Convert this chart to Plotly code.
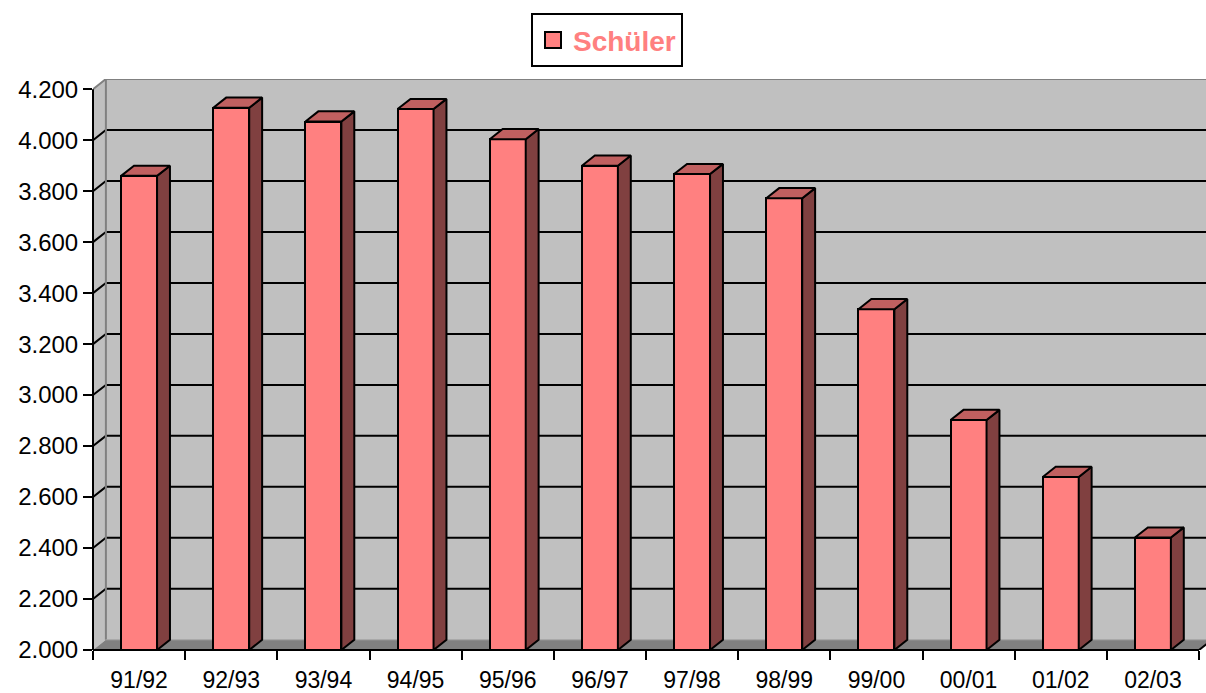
import plotly.graph_objects as go

# ---- data ----
categories = ['91/92', '92/93', '93/94', '94/95', '95/96', '96/97',
              '97/98', '98/99', '99/00', '00/01', '01/02', '02/03']
schueler = [3860, 4127, 4073, 4122, 4004, 3900, 3867, 3772, 3337, 2902, 2679, 2441]
y_ticks = [2000, 2200, 2400, 2600, 2800, 3000, 3200, 3400, 3600, 3800, 4000, 4200]
y_ticktext = [f"{v:,}".replace(',', '.') for v in y_ticks]

# ---- styling / geometry constants ----
YMIN, YMAX = 2000, 4200
DX, DY = 0.14, 40          # 3D depth offset in axis units
XR = 12.076                # right end of x range (plot area runs to the page edge)
BW = 0.39                  # bar width in category units
FRONT = '#FF8080'
SIDE = '#804040'
TOP = '#C06060'
WALL = '#C0C0C0'
FLOOR = '#808080'
EDGE = '#808080'
FONT = 'Liberation Sans, Arial, sans-serif'

n = len(categories)
centers = [i + 0.5 for i in range(n)]

fig = go.Figure()

# front faces
fig.add_trace(go.Bar(
    x=centers, y=[v - YMIN for v in schueler], base=YMIN, width=BW,
    name='Schüler', legendgroup='s',
    marker=dict(color=FRONT, line=dict(color='black', width=2)),
    hoverinfo='skip', showlegend=False))

# side faces and top faces
sx, sy, tx, ty = [], [], [], []
for c, v in zip(centers, schueler):
    xl, xr = c - BW / 2, c + BW / 2
    sx += [xr, xr + DX, xr + DX, xr, xr, None]
    sy += [YMIN, YMIN + DY, v + DY, v, YMIN, None]
    tx += [xl, xr, xr + DX, xl + DX, xl, None]
    ty += [v, v, v + DY, v + DY, v, None]
fig.add_trace(go.Scatter(x=sx, y=sy, mode='lines', fill='toself', fillcolor=SIDE, legendgroup='s',
                         line=dict(color='black', width=2), hoverinfo='skip', showlegend=False))
fig.add_trace(go.Scatter(x=tx, y=ty, mode='lines', fill='toself', fillcolor=TOP, legendgroup='s',
                         line=dict(color='black', width=2), hoverinfo='skip', showlegend=False))

# legend entry for the series (square marker like the reference legend key)
fig.add_trace(go.Scatter(x=[None], y=[None], mode='markers', name='Schüler', legendgroup='s',
                         marker=dict(symbol='square', size=19, color=FRONT,
                                     line=dict(color='black', width=2)),
                         hoverinfo='skip', showlegend=True))

# ---- walls, floor, gridlines (decoration shapes behind the traces) ----
shapes = []
shapes.append(dict(type='rect', xref='x', yref='y', x0=DX, x1=XR + 1, y0=YMIN + DY, y1=YMAX + DY,
                   fillcolor=WALL, line=dict(width=0), layer='below'))
shapes.append(dict(type='path', xref='x', yref='y',
                   path=f"M0,{YMIN} L{DX},{YMIN + DY} L{DX},{YMAX + DY} L0,{YMAX} Z",
                   fillcolor=WALL, line=dict(width=0), layer='below'))
shapes.append(dict(type='path', xref='x', yref='y',
                   path=f"M0,{YMIN} L{n},{YMIN} L{n + DX},{YMIN + DY} L{DX},{YMIN + DY} Z",
                   fillcolor=FLOOR, line=dict(width=0), layer='below'))
for v in y_ticks[1:-1]:
    shapes.append(dict(type='path', xref='x', yref='y',
                       path=f"M0,{v} L{DX},{v + DY} L{XR + 1},{v + DY}",
                       line=dict(color='black', width=2), layer='below'))
shapes.append(dict(type='path', xref='x', yref='y',
                   path=f"M0,{YMAX} L{DX},{YMAX + DY} L{XR + 1},{YMAX + DY}",
                   line=dict(color=EDGE, width=2), layer='below'))
shapes.append(dict(type='line', xref='x', yref='y', x0=DX, x1=DX, y0=YMIN + DY, y1=YMAX + DY,
                   line=dict(color=EDGE, width=2), layer='below'))
shapes.append(dict(type='line', xref='x', yref='y', x0=DX, x1=XR + 1, y0=YMIN + DY, y1=YMIN + DY,
                   line=dict(color='#A0A0A0', width=1), layer='below'))
# axis lines
shapes.append(dict(type='line', xref='paper', yref='y', x0=0, x1=0, y0=YMIN, y1=YMAX,
                   line=dict(color='black', width=2), layer='above'))
shapes.append(dict(type='line', xref='x', yref='paper', x0=0, x1=n, y0=0, y1=0,
                   line=dict(color='black', width=2), layer='above'))
shapes.append(dict(type='line', xref='x', yref='y', x0=n, x1=n + DX, y0=YMIN, y1=YMIN + DY,
                   line=dict(color='black', width=2), layer='above'))

fig.update_layout(
    width=1206, height=693,
    margin=dict(l=93, r=0, t=79, b=40, pad=0),
    paper_bgcolor='white', plot_bgcolor='white',
    shapes=shapes,
    showlegend=True,
    hovermode=False,
    legend=dict(x=0.4618, xanchor='center', y=1.115, yanchor='top',
                bgcolor='white', bordercolor='black', borderwidth=2,
                itemsizing='trace',
                font=dict(family=FONT, size=28, color=FRONT, weight='bold'),
                itemclick=False, itemdoubleclick=False),
    xaxis=dict(range=[0, XR], showgrid=False, zeroline=False, showline=False,
               tickmode='array', tickvals=centers, ticktext=categories,
               ticks='outside', ticklen=9, tickcolor='rgba(0,0,0,0)',
               tickfont=dict(family=FONT, size=23, color='black'),
               minor=dict(tickmode='array', tickvals=list(range(n + 1)), ticks='outside',
                          ticklen=9, tickwidth=2, tickcolor='black', showgrid=False),
               fixedrange=True),
    yaxis=dict(range=[YMIN, YMAX + DY], showgrid=False, zeroline=False, showline=False,
               tickmode='array', tickvals=y_ticks, ticktext=y_ticktext,
               ticks='outside', ticklen=9, tickwidth=2, tickcolor='black',
               tickfont=dict(family=FONT, size=24, color='black'),
               fixedrange=True),
    bargap=0,
)

# remove the browser's default page margin so the figure fills the window exactly
fig.write_html("out.html", config={'displayModeBar': False},
               post_script="document.body.style.margin='0';document.body.style.overflow='hidden';")
